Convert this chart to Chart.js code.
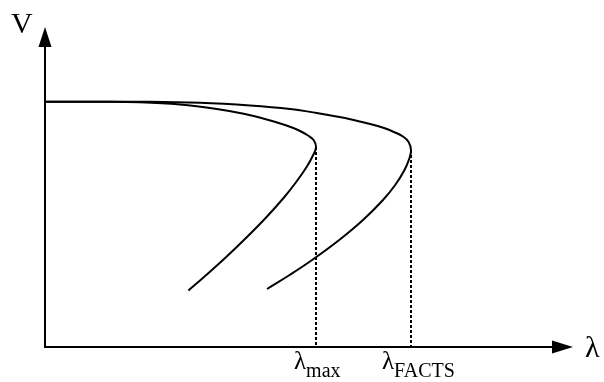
<!DOCTYPE html>
<html>
<head>
<meta charset="utf-8">
<script src="https://cdn.jsdelivr.net/npm/chart.js@4/dist/chart.umd.min.js"></script>
<style>
  html, body { margin: 0; padding: 0; background: #ffffff; }
  #wrap { width: 604px; height: 382px; }
</style>
</head>
<body>
<div id="wrap"><canvas id="c" width="604" height="382"></canvas></div>
<script>
// ---- data (λ in arbitrary units, V in p.u.) ----
const baseLambda = [0, 0.275, 0.475, 0.675, 0.859, 1.0, 1.109, 1.2, 1.265, 1.315, 1.343, 1.355, 1.341, 1.308, 1.256, 1.197, 1.108, 1.01, 0.906, 0.795, 0.717];
const baseVoltage = [0.981, 0.981, 0.979, 0.97, 0.952, 0.932, 0.91, 0.888, 0.868, 0.846, 0.828, 0.8, 0.768, 0.72, 0.66, 0.6, 0.52, 0.44, 0.36, 0.28, 0.226];

const factsLambda = [0, 0.525, 0.775, 1.025, 1.225, 1.36, 1.5, 1.61, 1.695, 1.745, 1.79, 1.818, 1.83, 1.8225, 1.7975, 1.751, 1.69, 1.59, 1.471, 1.3355, 1.223, 1.11];
const factsVoltage = [0.981, 0.981, 0.977, 0.966, 0.952, 0.936, 0.916, 0.895, 0.876, 0.86, 0.842, 0.82, 0.788, 0.756, 0.708, 0.648, 0.588, 0.508, 0.428, 0.348, 0.288, 0.232];

const noseLambda = [1.355, 1.83];
const noseVoltage = [0.8, 0.788];
const noseLabels = [["λ", "max"], ["λ", "FACTS"]];
const labelShift = [-22, -29];

const axisMax = { x: 2.64, y: 1.28 };
const axisNames = { x: "λ", y: "V" };

function pts(xs, ys) { return xs.map((x, i) => ({ x: x, y: ys[i] })); }

const curveStyle = { borderColor: "#000", borderWidth: 2, pointRadius: 0, showLine: true, tension: 0.4, fill: false };
const dashStyle = { borderColor: "#000", borderWidth: 2, pointRadius: 0, showLine: true, borderDash: [3, 2], tension: 0, fill: false };

const datasets = [
  Object.assign({ label: "base", data: pts(baseLambda, baseVoltage) }, curveStyle),
  Object.assign({ label: "FACTS", data: pts(factsLambda, factsVoltage) }, curveStyle)
];
noseLambda.forEach((l, i) => {
  datasets.push(Object.assign({ label: "drop" + i, data: [{ x: l, y: noseVoltage[i] }, { x: l, y: 0 }] }, dashStyle));
});

const axesPlugin = {
  id: "axesPlugin",
  afterDatasetsDraw(chart) {
    const ctx = chart.ctx;
    const xs = chart.scales.x, ys = chart.scales.y;
    const x0 = xs.getPixelForValue(0), y0 = ys.getPixelForValue(0);
    const xEnd = xs.getPixelForValue(axisMax.x), yEnd = ys.getPixelForValue(axisMax.y);
    ctx.save();
    ctx.strokeStyle = "#000"; ctx.fillStyle = "#000"; ctx.lineWidth = 2;
    // y axis
    ctx.beginPath(); ctx.moveTo(x0, y0 + 1); ctx.lineTo(x0, yEnd + 18); ctx.stroke();
    ctx.beginPath(); ctx.moveTo(x0, yEnd); ctx.lineTo(x0 - 6.5, yEnd + 20); ctx.lineTo(x0 + 6.5, yEnd + 20); ctx.closePath(); ctx.fill();
    // x axis
    ctx.beginPath(); ctx.moveTo(x0 - 1, y0); ctx.lineTo(xEnd - 18, y0); ctx.stroke();
    ctx.beginPath(); ctx.moveTo(xEnd, y0); ctx.lineTo(xEnd - 21, y0 - 6.5); ctx.lineTo(xEnd - 21, y0 + 6.5); ctx.closePath(); ctx.fill();
    // axis names
    ctx.textBaseline = "alphabetic";
    ctx.font = "30px 'Liberation Serif', 'Times New Roman', serif";
    ctx.textAlign = "left";
    ctx.fillText(axisNames.y, x0 - 34, yEnd + 6);
    ctx.fillText(axisNames.x, xEnd + 12, y0 + 10);
    // nose labels
    noseLambda.forEach((l, i) => {
      const px = xs.getPixelForValue(l) + labelShift[i];
      ctx.font = "25px 'Liberation Serif', 'Times New Roman', serif";
      ctx.fillText(noseLabels[i][0], px, y0 + 22);
      const w = ctx.measureText(noseLabels[i][0]).width;
      ctx.font = "20px 'Liberation Serif', 'Times New Roman', serif";
      ctx.fillText(noseLabels[i][1], px + w, y0 + 30);
    });
    ctx.restore();
  }
};

new Chart(document.getElementById("c"), {
  type: "scatter",
  data: { datasets: datasets },
  options: {
    responsive: false,
    devicePixelRatio: 1,
    animation: false,
    layout: { padding: { left: 45, top: 27, right: 31, bottom: 35 } },
    plugins: { legend: { display: false }, tooltip: { enabled: false } },
    scales: {
      x: { type: "linear", display: false, min: 0, max: axisMax.x },
      y: { type: "linear", display: false, min: 0, max: axisMax.y }
    }
  },
  plugins: [axesPlugin]
});
</script>
</body>
</html>
